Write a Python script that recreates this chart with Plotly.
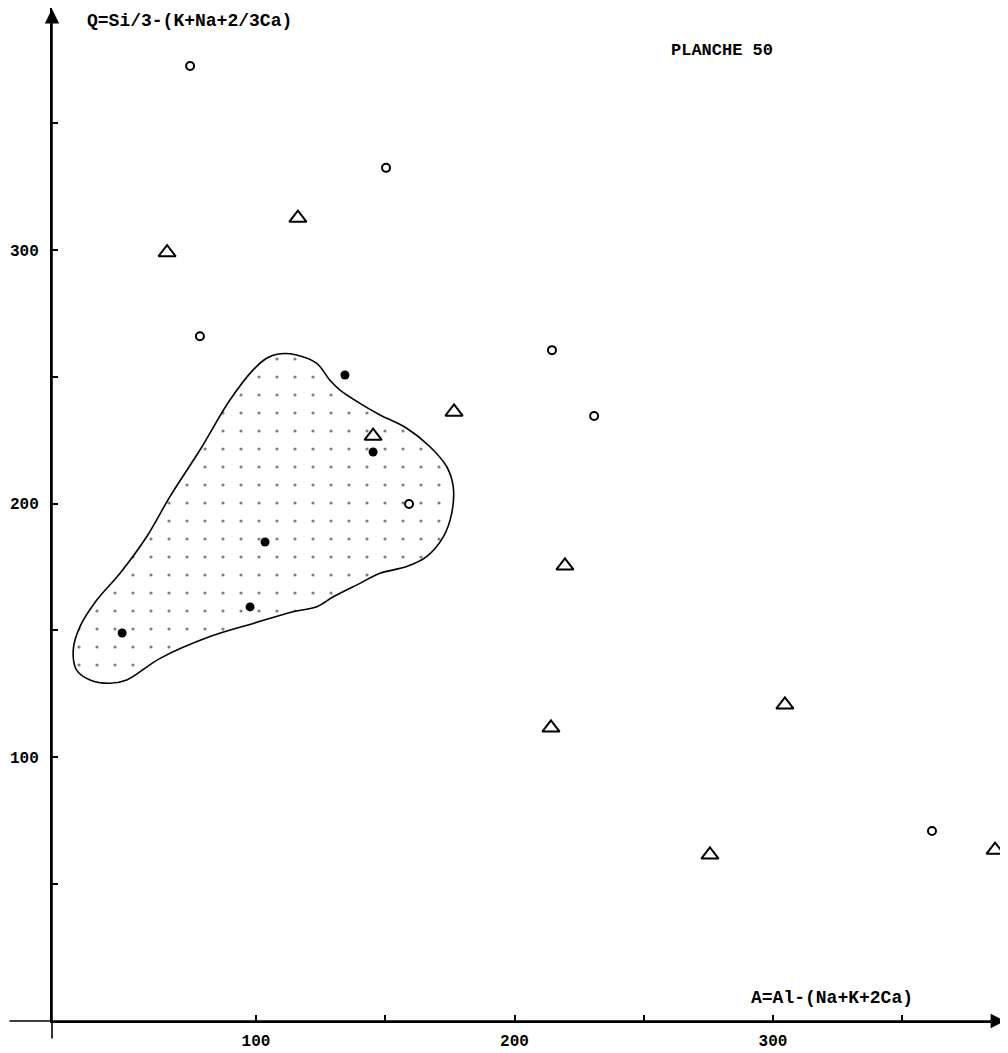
import plotly.graph_objects as go

# ── Data ───────────────────────────────────────────────────
# open circles
open_x = [74.5, 150.3, 78.3, 214.5, 230.8, 159.2, 361.5]
open_y = [372.6, 332.4, 266.0, 260.5, 234.5, 199.8, 70.8]

# filled dots
full_x = [134.4, 145.3, 103.5, 97.7, 48.2]
full_y = [250.7, 220.3, 184.8, 159.2, 148.9]

# triangles
tri_x = [65.6, 116.2, 176.6, 145.3, 219.5, 214.1, 304.6, 275.6, 385.9]
tri_y = [299.0, 312.6, 236.1, 226.6, 175.4, 111.5, 120.6, 61.4, 63.3]

# stippled field outline
zone_x = [108.6, 115.7, 123.5, 128.6, 132.5, 140.2, 148.0, 158.3, 167.3, 173.8,
          176.3, 175.7, 172.5, 166.0, 158.3, 148.0, 140.2, 129.9, 123.5, 114.4,
          98.9, 82.2, 62.9, 50.0, 43.5, 35.8, 30.6, 29.3, 31.9, 38.4,
          47.4, 57.7, 66.7, 78.3, 89.9, 98.9, 104.1, 108.6]
zone_y = [259.0, 258.6, 255.3, 248.6, 244.7, 239.5, 234.9, 229.7, 222.4, 214.5,
          206.6, 196.1, 186.9, 179.0, 175.1, 172.5, 168.5, 163.2, 159.3, 157.3,
          152.7, 147.5, 138.9, 130.4, 129.1, 130.4, 134.3, 142.2, 151.4, 161.9,
          172.5, 186.9, 202.7, 221.1, 240.8, 252.7, 257.3, 259.0]

x_ticks = [100, 150, 200, 250, 300, 350]
x_labels = ["100", "", "200", "", "300", ""]
y_ticks = [50, 100, 150, 200, 250, 300, 350]
y_labels = ["", "100", "", "200", "", "300", ""]

FONT = "Liberation Mono"

fig = go.Figure()

fig.add_trace(go.Scatter(
    x=zone_x, y=zone_y, mode="lines", fill="toself",
    line=dict(color="black", width=1.6, shape="spline", smoothing=1.0),
    fillcolor="white",
    fillpattern=dict(shape=".", size=18, solidity=0.025, fgcolor="black", bgcolor="white"),
    hoverinfo="skip", showlegend=False,
))

fig.add_trace(go.Scatter(
    x=open_x, y=open_y, mode="markers",
    marker=dict(symbol="circle-open", size=8, color="black", line=dict(width=2)),
    showlegend=False, cliponaxis=False,
))
fig.add_trace(go.Scatter(
    x=full_x, y=full_y, mode="markers",
    marker=dict(symbol="circle", size=9, color="black"),
    showlegend=False, cliponaxis=False,
))
fig.add_trace(go.Scatter(
    x=tri_x, y=tri_y, mode="markers",
    marker=dict(symbol="triangle-up-open", size=15, color="black", line=dict(width=2)),
    showlegend=False, cliponaxis=False,
))

# axis arrows (drawn past the plot area like on the plate)
fig.add_annotation(x=0.9886, y=0, xref="paper", yref="paper", ax=-997, ay=0,
                   axref="pixel", ayref="pixel", showarrow=True, text="",
                   arrowhead=2, arrowsize=1.8, arrowwidth=1.6, arrowcolor="black")
fig.add_annotation(x=0, y=1.003, xref="paper", yref="paper", ax=0, ay=1035,
                   axref="pixel", ayref="pixel", showarrow=True, text="",
                   arrowhead=2, arrowsize=1.8, arrowwidth=1.6, arrowcolor="black")

fig.add_annotation(x=0.0342, y=0.987, xref="paper", yref="paper", xanchor="left",
                   yanchor="middle", showarrow=False, text="Q=Si/3-(K+Na+2/3Ca)",
                   font=dict(family=FONT, size=18, color="black", weight="bold"))
fig.add_annotation(x=0.695, y=0.9585, xref="paper", yref="paper", showarrow=False,
                   xanchor="center", yanchor="middle", text="PLANCHE 50",
                   font=dict(family=FONT, size=17, color="black", weight="bold"))
fig.add_annotation(x=0.809, y=0.0227, xref="paper", yref="paper", showarrow=False,
                   xanchor="center", yanchor="middle", text="A=Al-(Na+K+2Ca)",
                   font=dict(family=FONT, size=18, color="black", weight="bold"))

fig.update_layout(
    width=1008, height=1053,
    plot_bgcolor="white", paper_bgcolor="white",
    margin=dict(l=44, r=0, t=0, b=40),
    showlegend=False,
    xaxis=dict(range=[21.08, 394.0], showgrid=False, zeroline=False,
               showline=True, linecolor="black", linewidth=2,
               ticks="inside", ticklen=6, tickwidth=2, tickcolor="black",
               tickvals=x_ticks, ticktext=x_labels, ticklabelstandoff=4,
               tickfont=dict(family=FONT, size=16, color="black", weight="bold")),
    yaxis=dict(range=[-4.14, 395.46], showgrid=False, zeroline=False,
               showline=True, linecolor="black", linewidth=2,
               ticks="inside", ticklen=6, tickwidth=2, tickcolor="black",
               tickvals=y_ticks, ticktext=y_labels, ticklabelstandoff=8,
               tickfont=dict(family=FONT, size=16, color="black", weight="bold")),
)

fig.write_html("out.html")
